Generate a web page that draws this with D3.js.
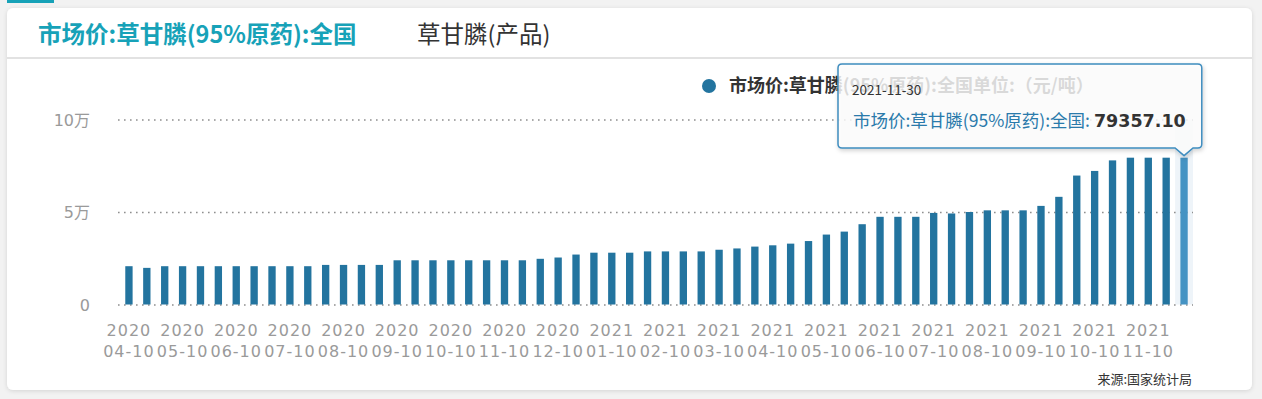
<!DOCTYPE html>
<html>
<head>
<meta charset="utf-8">
<script src="https://cdn.jsdelivr.net/npm/d3@7"></script>
<style>
  body { margin: 0; background: #f2f2f2; font-family: "Noto Sans CJK SC", "Microsoft YaHei", sans-serif; }
  svg { display: block; }
  .axis text { font-family: "DejaVu Sans", "Noto Sans CJK SC", sans-serif; font-size: 16px; fill: #9a9a9a; }
  .x-axis text { letter-spacing: 1px; }
  .axis .domain { display: none; }
</style>
</head>
<body>
<svg id="chart"></svg>
<script>
// data
const tabTitles = ['市场价:草甘膦(95%原药):全国', '草甘膦(产品)']
const seriesName = '市场价:草甘膦(95%原药):全国'
const unitLabel = '单位:（元/吨）'
const sourceNote = '来源:国家统计局'

const dates = [
    '2020-04-10', '2020-04-20', '2020-04-30',
    '2020-05-10', '2020-05-20', '2020-05-30',
    '2020-06-10', '2020-06-20', '2020-06-30',
    '2020-07-10', '2020-07-20', '2020-07-30',
    '2020-08-10', '2020-08-20', '2020-08-30',
    '2020-09-10', '2020-09-20', '2020-09-30',
    '2020-10-10', '2020-10-20', '2020-10-30',
    '2020-11-10', '2020-11-20', '2020-11-30',
    '2020-12-10', '2020-12-20', '2020-12-30',
    '2021-01-10', '2021-01-20', '2021-01-30',
    '2021-02-10', '2021-02-20', '2021-02-28',
    '2021-03-10', '2021-03-20', '2021-03-30',
    '2021-04-10', '2021-04-20', '2021-04-30',
    '2021-05-10', '2021-05-20', '2021-05-30',
    '2021-06-10', '2021-06-20', '2021-06-30',
    '2021-07-10', '2021-07-20', '2021-07-30',
    '2021-08-10', '2021-08-20', '2021-08-30',
    '2021-09-10', '2021-09-20', '2021-09-30',
    '2021-10-10', '2021-10-20', '2021-10-30',
    '2021-11-10', '2021-11-20', '2021-11-30'
]

const prices = [
    20700, 19800, 20700,
    20700, 20700, 20700,
    20700, 20700, 20700,
    20700, 20700, 21400,
    21400, 21400, 21400,
    23900, 23900, 23900,
    23900, 23900, 23900,
    23900, 23900, 24700,
    25400, 27000, 28000,
    28000, 28000, 28700,
    28700, 28700, 28700,
    29600, 30300, 31300,
    32000, 32900, 34300,
    37800, 39400, 43400,
    47400, 47400, 47400,
    49500, 49200, 50000,
    50900, 50900, 50900,
    53300, 58200, 69700,
    72200, 77900, 79357.1,
    79357.1, 79357.1, 79357.1
]

const yTicks = [0, 50000, 100000]
const yTickLabels = ['0', '5万', '10万']
const activeIndex = 59

class PriceBars {
    constructor(_config, _dates, _values) {
        this.config = {
            parentElement: _config.parentElement,
            containerWidth: _config.containerWidth || 1262,
            containerHeight: _config.containerHeight || 399,
            plot: {left: 120, right: 1193, top: 119.5, bottom: 304.5},
            barColor: '#23749f',
            activeColor: '#4593c3',
            accent: '#17a2b8'
        }
        this.dates = _dates
        this.values = _values
        this.initVis()
    }

    initVis() {
        let vis = this
        let p = vis.config.plot

        vis.svg = d3.select(vis.config.parentElement)
            .attr('width', vis.config.containerWidth)
            .attr('height', vis.config.containerHeight)

        let defs = vis.svg.append('defs')
        let shadow = defs.append('filter').attr('id', 'cardShadow')
            .attr('x', '-5%').attr('y', '-5%').attr('width', '110%').attr('height', '115%')
        shadow.append('feDropShadow')
            .attr('dx', 0).attr('dy', 1).attr('stdDeviation', 2)
            .attr('flood-color', '#000').attr('flood-opacity', 0.13)
        let tipShadow = defs.append('filter').attr('id', 'tipShadow')
            .attr('x', '-10%').attr('y', '-20%').attr('width', '120%').attr('height', '150%')
        tipShadow.append('feDropShadow')
            .attr('dx', 1).attr('dy', 2).attr('stdDeviation', 2)
            .attr('flood-color', '#000').attr('flood-opacity', 0.2)

        // tab marker + card
        vis.svg.append('rect')
            .attr('x', 7).attr('y', 0).attr('width', 47).attr('height', 3)
            .attr('fill', vis.config.accent)
        vis.svg.append('rect')
            .attr('x', 7).attr('y', 8).attr('width', 1245).attr('height', 382)
            .attr('rx', 6).attr('fill', '#fff')
            .attr('filter', 'url(#cardShadow)')
        vis.svg.append('line')
            .attr('x1', 7).attr('x2', 1252).attr('y1', 58).attr('y2', 58)
            .attr('stroke', '#e2e2e2').attr('stroke-width', 2)

        vis.svg.append('text')
            .attr('x', 38).attr('y', 43)
            .attr('font-size', 23.5).attr('font-weight', 'bold')
            .attr('fill', vis.config.accent)
            .text(tabTitles[0])
        vis.svg.append('text')
            .attr('x', 417).attr('y', 43)
            .attr('font-size', 23.5)
            .attr('fill', '#333')
            .text(tabTitles[1])

        vis.xScale = d3.scaleBand()
            .domain(vis.dates)
            .range([p.left, p.right])
            .paddingInner(0.59)
            .paddingOuter(0.295)
        vis.yScale = d3.scaleLinear()
            .domain([0, 100000])
            .range([p.bottom, p.top])

        vis.chart = vis.svg.append('g')

        vis.yAxis = d3.axisLeft(vis.yScale)
            .tickValues(yTicks)
            .tickFormat((d, i) => yTickLabels[i])
            .tickSize(-(p.right - p.left + 2))
            .tickPadding(28)
        vis.xAxis = d3.axisBottom(vis.xScale)
            .tickValues(vis.dates.filter((d, i) => i % 3 === 0))
            .tickSize(0)
            .tickPadding(0)

        vis.yAxisG = vis.chart.append('g')
            .attr('class', 'axis y-axis')
            .attr('transform', `translate(${p.left - 2},0)`)
        vis.xAxisG = vis.chart.append('g')
            .attr('class', 'axis x-axis')
            .attr('transform', `translate(0,${p.bottom})`)

        vis.renderVis()
    }

    renderVis() {
        let vis = this
        let data = vis.dates.map((d, i) => ({date: d, value: vis.values[i], i: i}))
        let active = data[activeIndex]
        let cx = vis.xScale(active.date) + vis.xScale.bandwidth() / 2

        // hover shadow column
        vis.chart.insert('rect', '.y-axis')
            .attr('x', cx - vis.xScale.step() / 2)
            .attr('width', vis.xScale.step())
            .attr('y', vis.yScale(100000))
            .attr('height', vis.yScale(0) - vis.yScale(100000))
            .attr('fill', '#eef4f9')

        vis.yAxisG.call(vis.yAxis)
        vis.yAxisG.selectAll('.tick line')
            .attr('stroke', '#8f8f8f')
            .attr('stroke-width', 1.6)
            .attr('stroke-dasharray', '1.6,4.4')
        vis.yAxisG.selectAll('.tick text').attr('dy', '0.35em')

        vis.chart.selectAll('.bar')
            .data(data)
            .join('rect')
                .attr('class', 'bar')
                .attr('x', d => vis.xScale(d.date))
                .attr('width', vis.xScale.bandwidth())
                .attr('y', d => vis.yScale(d.value))
                .attr('height', d => vis.yScale(0) - vis.yScale(d.value))
                .attr('fill', d => d.i === activeIndex ? vis.config.activeColor : vis.config.barColor)

        vis.xAxisG.call(vis.xAxis)
        vis.xAxisG.selectAll('.tick text')
            .attr('y', 0).attr('dy', null)
            .text(null)
            .each(function(d) {
                let t = d3.select(this)
                t.append('tspan').attr('x', 0).attr('y', 31).text(d.slice(0, 4))
                t.append('tspan').attr('x', 0).attr('y', 52).text(d.slice(5))
            })

        // legend
        let legend = vis.svg.append('g')
        legend.append('circle')
            .attr('cx', 709).attr('cy', 86).attr('r', 7)
            .attr('fill', vis.config.barColor)
        legend.append('text')
            .attr('x', 729).attr('y', 92)
            .attr('font-size', 18).attr('font-weight', 'bold')
            .attr('fill', '#333')
            .text(seriesName + unitLabel)

        // tooltip for the active bar
        let tip = vis.svg.append('g')
        let box = tip.append('path')
        tip.append('text')
            .attr('x', 852).attr('y', 95)
            .attr('font-size', 13.5).attr('fill', '#333')
            .text(active.date)
        let line = tip.append('text')
            .attr('x', 853).attr('y', 127)
            .attr('font-size', 17.5)
        line.append('tspan').attr('fill', '#2a7aab').text(seriesName + ': ')
        line.append('tspan').attr('font-weight', 'bold').attr('fill', '#333')
            .attr('font-family', '"DejaVu Sans", sans-serif')
            .text(d3.format('.2f')(active.value))

        let x0 = 838, y0 = 64, y1 = 148, r = 4
        let x1 = Math.max(853 + line.node().getComputedTextLength() + 16, cx + 14)
        let tipY = vis.yScale(active.value) - 2
        box.attr('d', `M${x0 + r},${y0} H${x1 - r} Q${x1},${y0} ${x1},${y0 + r} V${y1 - r} Q${x1},${y1} ${x1 - r},${y1}
                H${cx + 9} L${cx},${tipY} L${cx - 9},${y1} H${x0 + r} Q${x0},${y1} ${x0},${y1 - r} V${y0 + r} Q${x0},${y0} ${x0 + r},${y0} Z`)
            .attr('fill', 'rgba(255,255,255,0.8)')
            .attr('stroke', '#3f8dbf')
            .attr('stroke-width', 1.5)
            .attr('filter', 'url(#tipShadow)')

        vis.svg.append('text')
            .attr('x', 1192).attr('y', 384)
            .attr('text-anchor', 'end')
            .attr('font-size', 13).attr('fill', '#333')
            .text(sourceNote)
    }
}

new PriceBars({parentElement: '#chart'}, dates, prices)
</script>
</body>
</html>
